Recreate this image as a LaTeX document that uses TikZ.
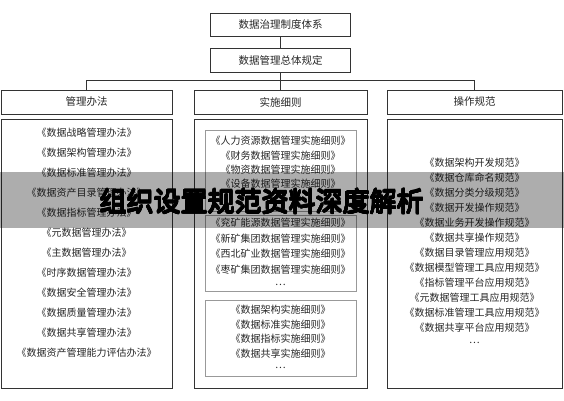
\documentclass[tikz,border=0pt]{standalone}
\usepackage{fontspec}
\usepackage[copies]{contour}
\setmainfont{Noto Sans CJK SC}
\contourlength{0.9pt}
\contournumber{16}
\begin{document}
\begin{tikzpicture}[x=1pt,y=-1pt]
	\tikzset{
		box/.style={draw=black!80,line width=0.6pt,minimum height=24pt,inner sep=0pt,font=\fontsize{10.5}{12}\selectfont,text=black!85},
		frame/.style={draw=black!80,line width=0.6pt,inner sep=0pt},
		inner frame/.style={draw=black!40,line width=0.6pt,inner sep=0pt,minimum width=151pt},
		item/.style={inner sep=0pt,font=\fontsize{10}{12}\selectfont,text=black!85},
		link/.style={line width=0.6pt,draw=black!80}
	}
	\useasboundingbox (0,0) rectangle (564,400);
	% top of the hierarchy
	\node[box,minimum width=140pt,minimum height=23pt] (sys) at (280.5,24.5) {数据治理制度体系};
	\node[box,minimum width=140pt] (gen) at (280.5,60) {数据管理总体规定};
	\node[box,minimum width=171pt] (mgt) at (86.5,102) {管理办法};
	\node[box,minimum width=173pt] (rule) at (280.5,102) {实施细则};
	\node[box,minimum width=175pt] (ops) at (474.5,102) {操作规范};
	\draw[link] (sys) -- (gen);
	\draw[link] (gen) -- (rule);
	\draw[link] (mgt.north) -- ++(0,-9) -| (ops.north);
	% bodies
	\node[frame,minimum width=171pt,minimum height=269pt] (mgtbody) at (86.5,253.5) {};
	\node[frame,minimum width=173pt,minimum height=269pt] (rulebody) at (280.5,253.5) {};
	\node[frame,minimum width=175pt,minimum height=269pt] (opsbody) at (474.5,253.5) {};
	\node[inner frame,minimum height=81pt] (biz) at (280.5,170.5) {};
	\node[inner frame,minimum height=76pt] (corp) at (280.5,253) {};
	\node[inner frame,minimum height=76pt] (dom) at (280.5,338) {};
	% lists
	\foreach \t [count=\i] in {
		《数据战略管理办法》,《数据架构管理办法》,《数据标准管理办法》,
		《数据资产目录管理办法》,《数据指标管理办法》,《元数据管理办法》,
		《主数据管理办法》,《时序数据管理办法》,《数据安全管理办法》,
		《数据质量管理办法》,《数据共享管理办法》,《数据资产管理能力评估办法》
	}{
		\node[item] (m\i) at (86.5,{113+20*\i}) {\t};
	}
	\foreach \t [count=\i] in {
		《人力资源数据管理实施细则》,《财务数据管理实施细则》,
		《物资数据管理实施细则》,《设备数据管理实施细则》,{\ldots}
	}{
		\node[item] (a\i) at (280.5,{126.75+14.25*\i}) {\t};
	}
	\foreach \t [count=\i] in {
		《兖矿能源数据管理实施细则》,《新矿集团数据管理实施细则》,
		《西北矿业数据管理实施细则》,《枣矿集团数据管理实施细则》,{\ldots}
	}{
		\node[item] (b\i) at (280.5,{207.5+15.5*\i}) {\t};
	}
	\foreach \t [count=\i] in {
		《数据架构实施细则》,《数据标准实施细则》,
		《数据指标实施细则》,《数据共享实施细则》,{\ldots}
	}{
		\node[item] (c\i) at (280.5,{295.5+14.5*\i}) {\t};
	}
	\foreach \t [count=\i] in {
		《数据架构开发规范》,《数据仓库命名规范》,《数据分类分级规范》,
		《数据开发操作规范》,《数据业务开发操作规范》,《数据共享操作规范》,
		《数据目录管理应用规范》,《数据模型管理工具应用规范》,
		《指标管理平台应用规范》,《元数据管理工具应用规范》,
		《数据标准管理工具应用规范》,《数据共享平台应用规范》,{\ldots}
	}{
		\node[item] (o\i) at (474.5,{148+15*\i}) {\t};
	}
	% banner
	\fill[black,opacity=0.32] (0,172) rectangle (564,228);
	\node[font=\fontsize{27}{30}\selectfont] (banner) at (262,202) {\contour{black}{组织设置规范资料深度解析}};
\end{tikzpicture}
\end{document}
